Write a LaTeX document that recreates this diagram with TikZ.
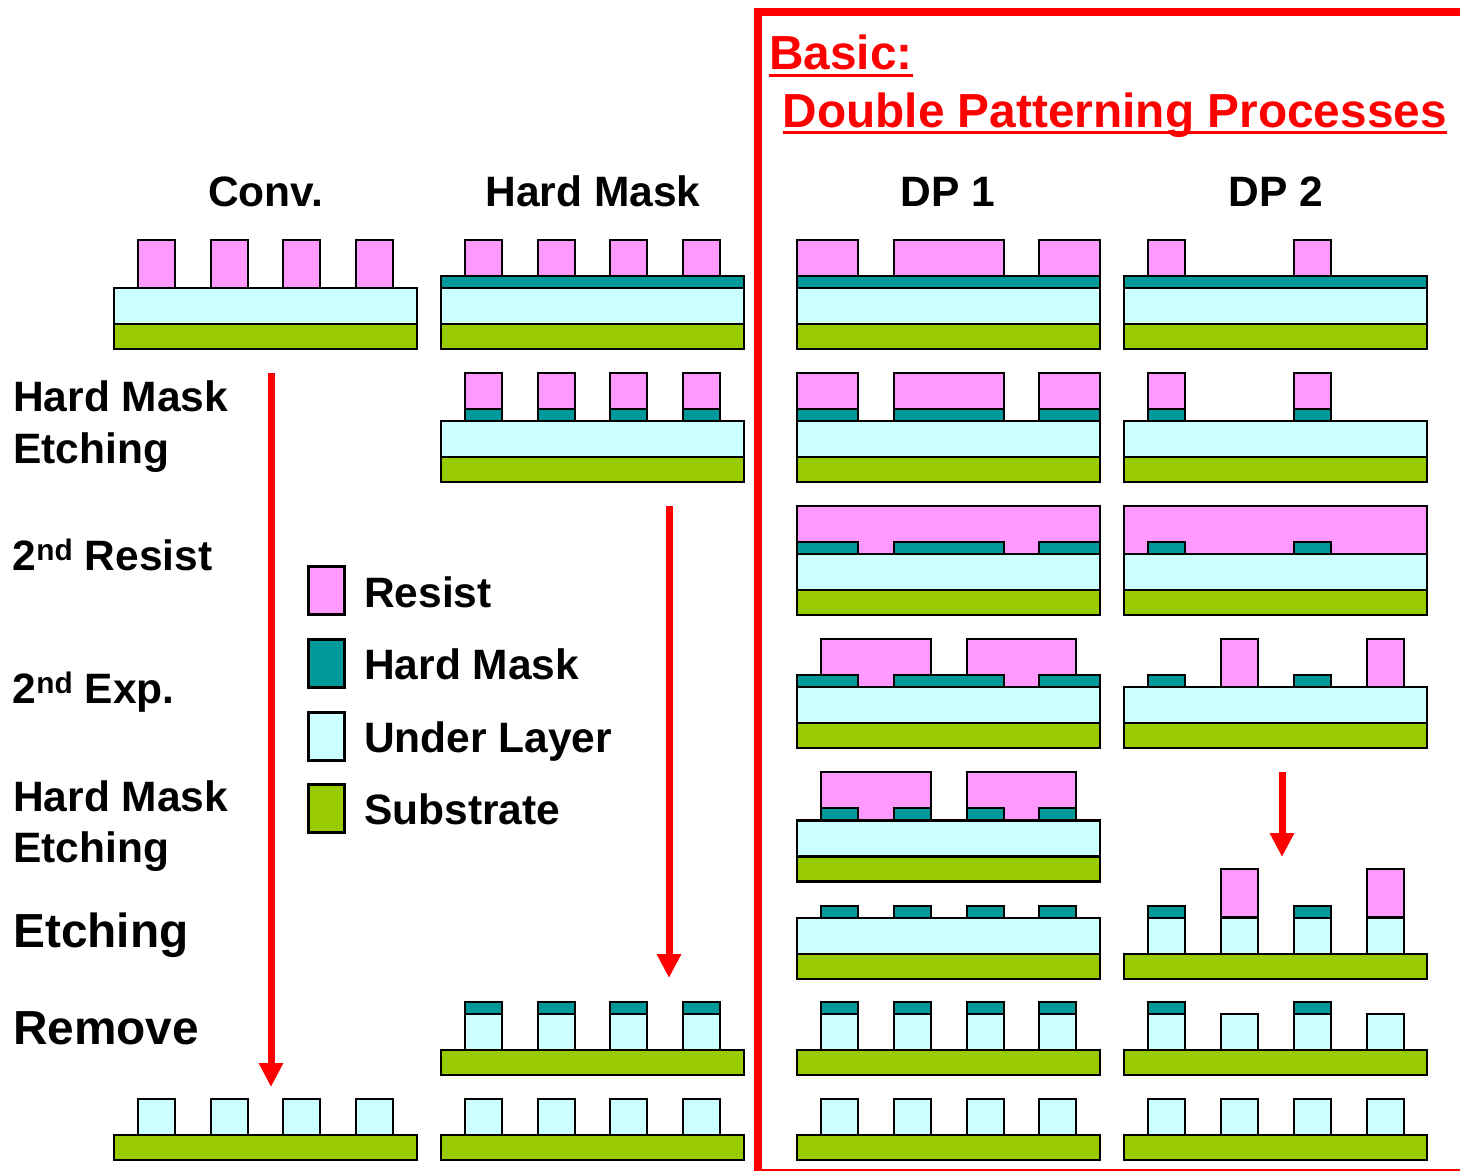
\documentclass[tikz,border=0pt]{standalone}
\usepackage{fontspec}
\setmainfont{Liberation Sans}
\usetikzlibrary{arrows.meta}
\definecolor{resistcol}{HTML}{FF99FF}
\definecolor{maskcol}{HTML}{009999}
\definecolor{undercol}{HTML}{CCFFFF}
\definecolor{subcol}{HTML}{99CC00}
\definecolor{framecol}{HTML}{FF0000}

\begin{document}
\begin{tikzpicture}[
    x=1pt, y=-1pt,
    resist/.style={draw, line width=2.7pt, fill=resistcol},
    mask/.style={draw, line width=2.7pt, fill=maskcol},
    under/.style={draw, line width=2.7pt, fill=undercol},
    substrate/.style={draw, line width=2.7pt, fill=subcol},
    swatch/.style={rectangle, line width=2.7pt, minimum width=36pt, minimum height=48pt, inner sep=0pt},
    label/.style={inner sep=0pt, anchor=base west, font=\fontsize{42.5}{50}\selectfont\bfseries},
    biglabel/.style={label, font=\fontsize{47.8}{56}\selectfont\bfseries},
    title/.style={label, anchor=base},
    flow/.style={draw=framecol, line width=7pt, -{Triangle[length=24pt,width=23pt]}}
]
\useasboundingbox (0,0) rectangle (1460,1171);

% ============= FRAME AND HEADINGS =============
\fill[framecol] (754,7.5) rectangle (1460,15.5);
\fill[framecol] (754,7.5) rectangle (762,1171);
\fill[framecol] (754,1168.7) rectangle (1460,1171);

\node[biglabel, text=framecol] (basic) at (769,69) {Basic:};
\node[biglabel, text=framecol] (double) at (782.5,127) {Double Patterning Processes};
\draw[framecol, line width=3pt] ([yshift=-6pt]basic.base west) -- ([yshift=-6pt]basic.base east);
\draw[framecol, line width=3pt] ([yshift=-5.5pt]double.base west) -- ([yshift=-5.5pt]double.base east);

\node[title] (conv) at (265.5,206) {Conv.};
\node[title] (hardmask) at (593,206) {Hard Mask};
\node[title] (dpone) at (948,206) {DP 1};
\node[title] (dptwo) at (1276,206) {DP 2};

% ============= STEP LABELS =============
\node[label] (etchone) at (13,411) {Hard Mask};
\node[label] (etchoneb) at (13,463) {Etching};
\node[label] (second) at (12.5,570) {2\textsuperscript{nd} Resist};
\node[label] (exposure) at (12.5,703) {2\textsuperscript{nd} Exp.};
\node[label] (etchtwo) at (13,811) {Hard Mask};
\node[label] (etchtwob) at (13,862) {Etching};
\node[biglabel] (etching) at (13,947) {Etching};
\node[biglabel] (remove) at (13,1044) {Remove};

% ============= LEGEND =============
\node[swatch, draw, fill=resistcol] (legresist) at (326.5,590.5) {};
\node[swatch, draw, fill=maskcol] (legmask) at (326.5,663.5) {};
\node[swatch, draw, fill=undercol] (legunder) at (326.5,736.5) {};
\node[swatch, draw, fill=subcol] (legsub) at (326.5,808.5) {};
\node[label] (txtresist) at (364,607) {Resist};
\node[label] (txtmask) at (364,679) {Hard Mask};
\node[label] (txtunder) at (364,752) {Under Layer};
\node[label] (txtsub) at (364,824) {Substrate};

% ============= RESIST AND MASK =============
% Resist on the full layers
\foreach \c in {114,441} {
    \foreach \o in {24,97,169,242} {
        \draw[resist] (\c+\o,240) rectangle +(37,48);
    }
}
\foreach \o/\w in {0/61,97/110,242/61} {
    \draw[resist] (797+\o,240) rectangle +(\w,48);
    \draw[resist] (797+\o,373) rectangle +(\w,48);
}
\foreach \o in {24,170} {
    \draw[resist] (1124+\o,240) rectangle +(37,48);
    \draw[resist] (1124+\o,373) rectangle +(37,48);
}
\foreach \o in {24,97,169,242} {
    \draw[resist] (441+\o,373) rectangle +(37,48);
    \draw[mask] (441+\o,409) rectangle +(37,12);
    \draw[mask] (441+\o,1002) rectangle +(37,12);
}

% Second resist
\draw[resist] (797,506) rectangle (1100,554);
\draw[resist] (1124,506) rectangle (1427,554);
\foreach \o/\w in {24/110,170/109} {
    \draw[resist] (797+\o,639) rectangle +(\w,48);
    \draw[resist] (797+\o,772) rectangle +(\w,48);
}
\foreach \o in {97,243} {
    \draw[resist] (1124+\o,639) rectangle +(37,48);
    \draw[resist] (1124+\o,869) rectangle +(37,48);
}

% Hard mask pieces
\foreach \c in {441,797,1124} {
    \draw[mask] (\c,276) rectangle +(303,12);
}
\foreach \o/\w in {0/61,97/110,242/61} {
    \draw[mask] (797+\o,409) rectangle +(\w,12);
    \draw[mask] (797+\o,542) rectangle +(\w,12);
    \draw[mask] (797+\o,675) rectangle +(\w,12);
}
\foreach \o in {24,170} {
    \draw[mask] (1124+\o,409) rectangle +(37,12);
    \draw[mask] (1124+\o,542) rectangle +(37,12);
    \draw[mask] (1124+\o,675) rectangle +(37,12);
    \draw[mask] (1124+\o,906) rectangle +(37,12);
    \draw[mask] (1124+\o,1002) rectangle +(37,12);
}
\foreach \o in {24,97,170,242} {
    \draw[mask] (797+\o,808) rectangle +(37,12.5);
    \draw[mask] (797+\o,906) rectangle +(37,12);
    \draw[mask] (797+\o,1002) rectangle +(37,12);
}

% ============= WAFER LAYERS =============
% Under layer and substrate
\foreach \c/\y in {114/288,441/288,797/288,1124/288,441/421,797/421,1124/421,
                   797/554,1124/554,797/687,1124/687,797/820.5,797/918} {
    \draw[under] (\c,\y) rectangle +(303,36);
    \draw[substrate] (\c,\y+36) rectangle +(303,25);
}

% Etched under layer
\foreach \o in {24,97,169,242} {
    \draw[under] (441+\o,1014) rectangle +(37,36);
    \draw[under] (114+\o,1099) rectangle +(37,36);
    \draw[under] (441+\o,1099) rectangle +(37,36);
}
\foreach \o in {24,97,170,242} {
    \draw[under] (797+\o,1014) rectangle +(37,36);
    \draw[under] (797+\o,1099) rectangle +(37,36);
}
\foreach \o in {24,97,170,243} {
    \draw[under] (1124+\o,918) rectangle +(37,36);
    \draw[under] (1124+\o,1014) rectangle +(37,36);
    \draw[under] (1124+\o,1099) rectangle +(37,36);
}

% Bare substrate
\foreach \c/\y in {1124/954,441/1050,797/1050,1124/1050,114/1135,441/1135,797/1135,1124/1135} {
    \draw[substrate] (\c,\y) rectangle +(303,25);
}

% ============= ARROWS =============
\coordinate (convtop) at (271,373);
\coordinate (convend) at (271,1087);
\coordinate (masktop) at (669,506);
\coordinate (maskend) at (669,978);
\coordinate (duotop) at (1282,772);
\coordinate (duoend) at (1282,857);
\draw[flow] (convtop) -- (convend);
\draw[flow] (masktop) -- (maskend);
\draw[flow] (duotop) -- (duoend);

\end{tikzpicture}
\end{document}
